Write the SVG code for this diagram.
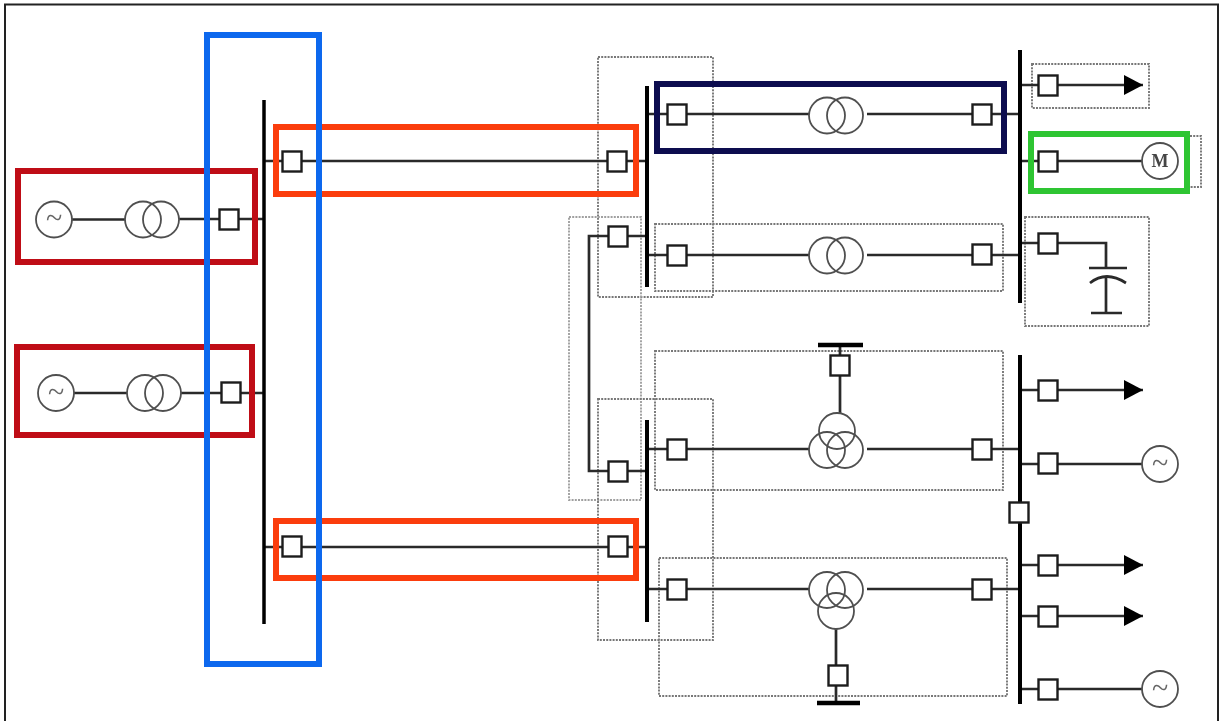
<svg xmlns="http://www.w3.org/2000/svg" width="1222" height="721" viewBox="0 0 1222 721">
<style>
.wire{stroke:#2a2a2a;stroke-width:2.7;fill:none}
.bus{stroke:#000;fill:none}
.brk{fill:#fff;stroke:#1c1c1c;stroke-width:2.4}
.ring{fill:none;stroke:#505050;stroke-width:1.8}
.dot{fill:none;stroke:#777;stroke-width:1.9;stroke-dasharray:2 1.2}
.hl{fill:none;stroke-width:6}
.sym{font-family:"Liberation Serif",serif;fill:#666;text-anchor:middle}
</style>
<defs>
<filter id="soft" x="0" y="0" width="1" height="1" filterUnits="objectBoundingBox"><feGaussianBlur stdDeviation="0.55"/></filter>
<marker id="load" markerUnits="userSpaceOnUse" markerWidth="20" markerHeight="22" refX="19" refY="11" orient="auto"><path d="M0 1L19 11L0 21Z" fill="#000"/></marker>
<g id="b"><rect class="brk" x="-9.500" y="-9.500" width="19" height="20"/></g>
</defs>
<g filter="url(#soft)">
<rect width="1222" height="721" fill="#fff"/>
<path d="M5 721V4.500H1218V721" fill="none" stroke="#222" stroke-width="2"/>
<g id="dotted-zones">
<rect class="dot" x="598" y="57" width="115" height="240"/>
<rect class="dot" x="569" y="217" width="72" height="283" style="stroke:#a0a0a0"/>
<rect class="dot" x="598" y="399" width="115" height="241"/>
<rect class="dot" x="655" y="224" width="348" height="67"/>
<rect class="dot" x="655" y="351" width="348" height="139"/>
<rect class="dot" x="659" y="558" width="348" height="138"/>
<rect class="dot" x="1032" y="64" width="117" height="44"/>
<path class="dot" d="M1190 136H1201V187H1190"/>
<rect class="dot" x="1025" y="217" width="124" height="109"/>
</g>
<g id="connectors">
<path class="wire" d="M72 219.500H125M179 219H264M74 393H127M181 393H264"/>
<path class="wire" d="M264 161H647M264 547H647"/>
<path class="wire" d="M647 114H809M867 114H1020M647 255H809M867 255H1020"/>
<path class="wire" d="M647 449H809M867 449H1020M647 589H809M867 589H1020"/>
<path class="wire" d="M647 236H589V471H647"/>
<path class="wire" d="M840 345V413M836 629V703"/>
<path class="wire" d="M1020 85H1143" marker-end="url(#load)"/>
<path class="wire" d="M1020 390H1143" marker-end="url(#load)"/>
<path class="wire" d="M1020 565H1143" marker-end="url(#load)"/>
<path class="wire" d="M1020 616H1143" marker-end="url(#load)"/>
<path class="wire" d="M1020 161H1142M1020 464H1142M1020 689H1142"/>
<path class="wire" d="M1020 243H1106V268M1106 276V313"/>
<path class="wire" d="M1089 268H1127M1090 283Q1106 270 1126 283M1091 313H1122"/>
</g>
<g id="buses">
<path class="bus" stroke-width="3.500" d="M264 100V624"/>
<path class="bus" stroke-width="4" d="M647 86V287M647 420V622M1020 50V303M1020 355V704"/>
<path class="bus" stroke-width="4.500" d="M818 345H863M817 703H860"/>
</g>
<g id="gen1"><circle class="ring" cx="54" cy="219.500" r="18"/><text class="sym" x="54" y="228" font-size="30">~</text><circle class="ring" cx="143" cy="219.500" r="18"/><circle class="ring" cx="161" cy="219.500" r="18"/></g>
<g id="gen2"><circle class="ring" cx="56" cy="393" r="18"/><text class="sym" x="56" y="402" font-size="30">~</text><circle class="ring" cx="145" cy="393" r="18"/><circle class="ring" cx="163" cy="393" r="18"/></g>
<g id="tx1"><circle class="ring" cx="827" cy="115.500" r="18"/><circle class="ring" cx="845" cy="115.500" r="18"/></g>
<g id="tx2"><circle class="ring" cx="827" cy="255.500" r="18"/><circle class="ring" cx="845" cy="255.500" r="18"/></g>
<g id="tx3"><circle class="ring" cx="837" cy="431" r="18"/><circle class="ring" cx="827" cy="450" r="18"/><circle class="ring" cx="845" cy="450" r="18"/></g>
<g id="tx4"><circle class="ring" cx="827" cy="590" r="18"/><circle class="ring" cx="845" cy="590" r="18"/><circle class="ring" cx="836" cy="611" r="18"/></g>
<g id="motor"><circle class="ring" cx="1160" cy="161" r="18"/><text class="sym" x="1160" y="167" font-size="18" font-weight="bold" style="fill:#444">M</text></g>
<g id="gen3"><circle class="ring" cx="1160" cy="464" r="18"/><text class="sym" x="1160" y="473" font-size="30">~</text></g>
<g id="gen4"><circle class="ring" cx="1160" cy="689" r="18"/><text class="sym" x="1160" y="698" font-size="30">~</text></g>
<g id="breakers">
<use href="#b" x="229" y="219"/><use href="#b" x="231" y="392"/><use href="#b" x="292" y="161"/><use href="#b" x="292" y="546"/>
<use href="#b" x="617" y="161"/><use href="#b" x="618" y="546"/><use href="#b" x="618" y="236"/><use href="#b" x="618" y="471"/>
<use href="#b" x="677" y="114"/><use href="#b" x="677" y="255"/><use href="#b" x="677" y="449"/><use href="#b" x="677" y="589"/>
<use href="#b" x="982" y="114"/><use href="#b" x="982" y="254"/><use href="#b" x="982" y="449"/><use href="#b" x="982" y="589"/>
<use href="#b" x="1048" y="85"/><use href="#b" x="1048" y="161"/><use href="#b" x="1048" y="243"/><use href="#b" x="1048" y="390"/>
<use href="#b" x="1048" y="463"/><use href="#b" x="1019" y="512"/><use href="#b" x="1048" y="565"/><use href="#b" x="1048" y="616"/><use href="#b" x="1048" y="689"/>
<use href="#b" x="840" y="365"/><use href="#b" x="838" y="675"/>
</g>
<g id="highlights">
<rect class="hl" stroke="#bf0b12" x="18" y="171" width="237" height="91"/>
<rect class="hl" stroke="#bf0b12" x="17" y="347" width="235" height="88"/>
<rect class="hl" stroke="#fb3c0a" x="276" y="127" width="360" height="67"/>
<rect class="hl" stroke="#fb3c0a" x="276" y="521" width="360" height="57"/>
<rect class="hl" stroke="#0f67ee" x="207" y="35" width="112" height="629"/>
<rect class="hl" stroke="#0a0a50" x="657" y="84" width="347" height="67"/>
<rect class="hl" stroke="#2ec533" x="1031" y="134" width="156" height="57"/>
</g>
</g>
</svg>
